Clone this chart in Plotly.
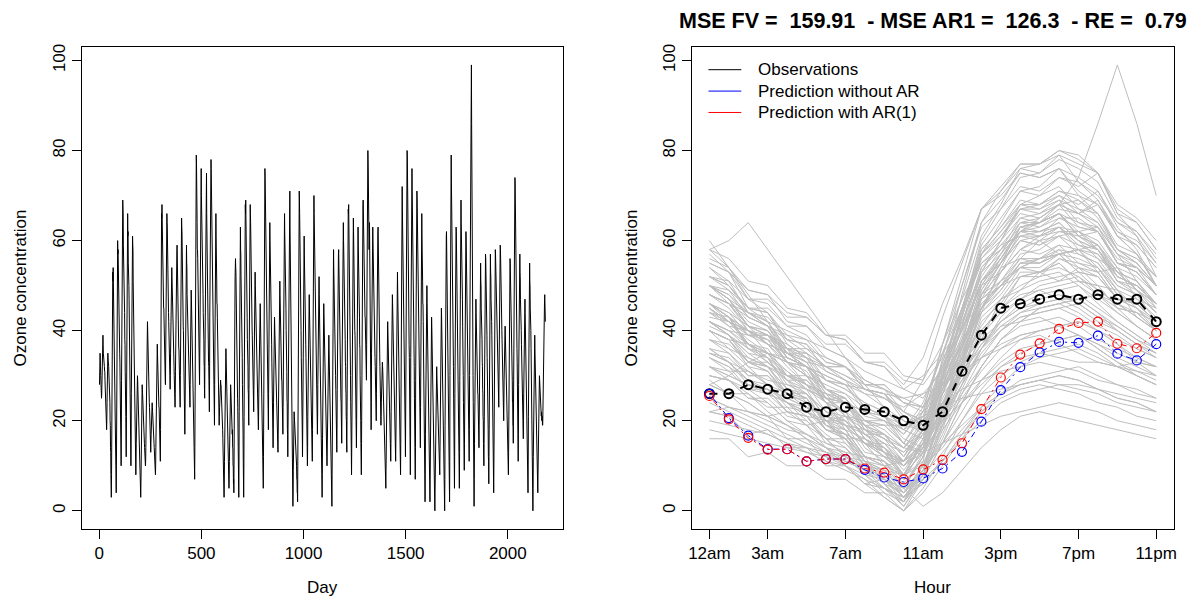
import plotly.graph_objects as go

# ---------------------------------------------------------------------------
# data (hourly ozone, 91 days x 24 hours)
# ---------------------------------------------------------------------------
hours = list(range(1, 25))
hour_ticks = [1, 4, 8, 12, 16, 20, 24]
hour_labels = ["12am", "3am", "7am", "11am", "3pm", "7pm", "11pm"]
day_ticks = [0, 500, 1000, 1500, 2000]
conc_ticks = [0, 20, 40, 60, 80, 100]

daily = [
    [28,30,33,35,34,32,30,28,27,26,25,26,28,31,34,36,38,39,37,35,33,32,33,32],
    [32,31,31,29,28,27,25,24,22,21,19,18,20,24,28,32,34,35,34,33,33,32,31,30],
    [30,29,25,24,20,19,14,13,8,7,3,8,18,31,38,47,49,53,51,54,50,49,43,40],
    [40,38,33,31,26,24,18,17,11,9,4,10,22,37,44,54,56,60,57,58,53,54,47,45],
    [45,41,40,35,33,28,26,21,19,13,10,16,29,41,54,58,65,66,69,67,66,59,57,52],
    [52,50,45,44,38,37,31,29,23,21,15,12,21,33,48,55,63,64,66,61,62,55,54,50],
    [50,47,42,40,34,32,26,24,18,15,10,15,26,36,47,51,57,58,61,59,58,51,48,42],
    [42,39,35,32,29,26,22,19,15,12,8,11,15,19,23,26,28,29,30,29,27,25,24,22],
    [22,21,19,17,15,13,11,9,7,5,3,6,11,17,22,25,27,28,27,26,24,23,21,20],
    [20,19,18,17,15,14,13,12,11,10,11,14,19,25,31,36,39,40,41,42,40,37,33,30],
    [30,29,27,26,24,23,21,19,18,16,14,13,15,17,19,21,22,23,24,23,22,20,19,18],
    [18,17,16,15,14,13,12,11,10,9,8,10,14,20,26,30,33,35,36,37,35,32,30,28],
    [28,26,26,23,23,19,20,16,16,12,11,18,33,45,57,61,66,65,68,63,62,55,54,50],
    [50,49,45,45,41,41,37,37,33,33,29,28,34,40,51,56,62,63,66,64,63,55,53,48],
    [48,46,44,42,40,38,36,34,31,29,27,30,35,41,46,50,52,53,54,52,49,46,43,40],
    [40,38,37,35,33,32,30,28,26,25,23,26,31,38,45,50,54,56,57,58,59,54,49,44],
    [44,43,39,39,36,36,32,32,28,28,24,23,30,37,48,53,60,61,65,63,62,55,53,48],
    [48,46,41,40,35,34,29,28,22,21,17,22,32,40,50,53,58,57,59,55,54,48,46,42],
    [42,40,39,37,35,33,32,30,28,27,25,23,28,34,40,45,48,49,47,45,42,40,37,35],
    [35,33,29,28,23,22,18,17,12,11,7,14,29,44,60,67,74,75,79,77,75,66,64,58],
    [58,56,51,50,45,44,39,38,33,32,28,34,46,56,67,70,75,74,76,70,68,62,60,55],
    [55,53,49,48,44,43,39,38,33,32,27,25,32,40,53,60,68,70,74,72,75,66,61,52],
    [52,50,45,44,39,38,33,32,27,26,22,29,43,55,67,71,76,75,78,76,73,65,62,56],
    [56,54,49,48,42,41,36,34,29,27,22,19,28,38,51,57,64,64,66,61,59,53,51,46],
    [46,43,40,37,35,32,29,27,24,22,19,21,23,25,26,27,28,29,28,28,27,26,25,24],
    [24,22,20,18,16,14,12,10,8,5,3,6,11,17,23,28,32,34,35,36,34,32,30,28],
    [28,26,24,21,19,17,14,12,10,7,5,7,11,16,20,24,26,27,28,27,26,24,23,22],
    [22,21,17,18,14,14,10,10,6,7,4,9,19,28,40,45,52,53,56,54,53,47,45,40],
    [40,38,32,31,25,23,18,16,10,8,3,9,22,35,49,55,61,61,63,58,57,52,50,46],
    [46,43,37,34,28,26,19,17,11,8,3,9,21,33,47,54,62,64,68,66,69,61,57,50],
    [50,48,44,43,38,37,33,32,27,26,21,19,27,36,50,57,64,65,68,66,64,57,54,48],
    [48,46,43,41,39,36,34,32,29,27,24,22,27,34,41,47,50,52,53,50,47,44,41,38],
    [38,36,34,32,30,28,26,24,22,20,18,21,26,31,36,40,43,44,45,46,43,40,37,34],
    [34,32,27,27,22,21,16,15,10,9,5,12,27,41,57,64,71,72,76,74,71,64,61,55],
    [55,53,47,46,41,39,34,32,27,26,20,18,26,36,50,56,62,62,64,60,58,52,50,46],
    [46,43,40,37,33,30,27,24,20,17,14,18,24,31,37,41,42,43,41,39,37,35,33,32],
    [32,30,28,27,25,23,21,19,17,15,13,17,24,32,39,44,47,49,50,51,48,44,41,38],
    [38,37,33,33,29,29,25,25,20,20,17,23,35,45,56,60,65,64,66,62,60,54,52,48],
    [48,45,40,38,33,31,25,24,18,17,12,18,31,43,56,61,67,67,70,68,71,63,58,50],
    [50,46,41,37,32,28,24,19,15,10,5,1,4,9,14,18,21,22,21,20,19,18,17,16],
    [16,16,12,13,10,10,7,7,4,4,2,9,23,37,53,60,67,68,71,69,66,58,55,50],
    [50,47,41,40,34,32,26,25,19,17,12,18,30,40,51,55,60,59,61,57,55,50,48,44],
    [44,41,37,34,31,27,24,20,17,13,10,14,21,29,36,41,44,46,47,48,45,42,39,36],
    [36,35,30,30,25,25,20,20,15,15,11,18,32,45,58,63,69,68,70,66,63,57,55,50],
    [50,47,44,41,38,35,32,29,26,23,20,17,21,28,36,43,47,50,51,52,48,45,41,38],
    [38,35,31,28,24,21,17,14,10,7,3,8,16,26,34,40,44,45,46,44,41,39,36,34],
    [34,32,29,27,24,22,19,17,15,12,10,13,18,24,29,33,36,37,38,39,36,33,30,28],
    [28,26,22,21,16,16,11,10,6,5,1,8,20,32,45,50,56,56,58,54,52,47,46,42],
    [42,39,36,33,30,27,25,22,19,16,13,18,27,37,45,51,54,56,57,58,54,49,45,42],
    [42,40,36,35,30,30,25,24,20,19,15,21,33,44,55,58,63,62,64,60,58,52,50,46],
    [46,44,39,38,33,32,27,26,21,20,15,13,22,33,48,55,63,64,67,66,68,61,57,50],
    [50,47,41,39,33,30,24,22,16,13,8,15,29,41,54,59,64,63,65,65,62,55,53,48],
    [48,46,40,39,34,32,27,25,20,18,14,20,32,42,53,57,62,61,63,59,57,51,50,46],
    [46,43,37,36,30,28,22,20,15,13,8,15,30,43,57,62,67,66,68,69,65,58,56,52],
    [52,51,47,47,43,43,39,39,35,35,30,29,37,47,61,68,76,77,80,78,75,68,65,60],
    [58,60,64,58,52,46,40,34,28,23,18,24,35,47,55,59,61,62,63,60,56,53,49,46],
    [46,44,41,39,37,34,32,30,27,25,22,20,26,35,45,53,58,61,62,62,63,57,51,45],
    [45,42,40,37,35,32,29,27,24,22,19,21,24,27,29,31,32,33,32,31,29,28,26,25],
    [25,23,21,19,17,15,13,11,9,7,5,9,15,22,29,34,38,40,41,42,40,37,34,32],
    [32,30,28,26,24,22,20,17,15,13,11,15,22,30,37,42,45,47,48,46,43,41,38,36],
    [36,33,31,28,26,23,21,18,16,13,11,15,23,32,40,45,49,51,52,53,49,46,43,40],
    [40,38,33,32,26,25,20,19,13,12,8,15,31,45,59,65,71,70,72,67,64,58,56,52],
    [52,49,43,41,35,33,27,25,19,17,12,20,37,52,67,72,77,77,80,79,75,67,64,58],
    [58,54,47,44,37,34,27,24,17,14,8,16,34,50,64,69,75,74,76,71,68,61,59,54],
    [54,50,44,41,34,32,25,22,16,13,7,14,29,43,57,62,68,68,71,70,66,58,55,50],
    [50,48,43,41,36,35,29,28,23,21,16,14,23,34,49,56,63,64,66,61,59,53,51,46],
    [46,42,37,33,29,24,20,15,11,6,2,8,17,27,36,42,46,48,49,50,46,42,39,36],
    [36,33,29,26,22,19,16,12,9,5,2,7,15,24,32,38,41,42,43,41,38,36,34,32],
    [32,29,26,22,19,16,13,10,6,3,0,4,10,16,22,26,29,30,31,32,30,28,27,25],
    [25,23,22,20,18,17,15,13,12,10,8,13,20,28,35,40,43,44,45,43,40,38,36,34],
    [34,31,27,24,20,17,14,10,7,3,0,7,19,33,45,53,58,60,61,62,58,53,49,46],
    [46,43,36,34,27,25,19,16,10,7,2,11,30,48,64,71,77,77,79,73,70,64,62,57],
    [57,53,45,42,35,32,25,21,14,11,5,12,26,38,51,55,61,60,63,62,59,52,50,46],
    [46,43,37,35,29,27,20,18,12,10,5,13,29,44,58,63,68,67,69,64,62,56,54,50],
    [50,47,41,39,33,30,24,22,16,14,9,15,28,39,51,55,60,59,62,61,58,51,49,45],
    [45,42,38,35,31,28,25,21,18,14,11,18,30,42,52,58,62,65,68,74,86,99,86,70],
    [60,54,48,42,36,30,24,18,12,6,1,7,15,24,32,38,42,45,46,47,44,40,37,35],
    [35,34,30,30,26,26,22,21,17,17,14,19,29,37,47,50,54,53,55,51,50,45,44,40],
    [40,38,33,32,27,26,21,20,15,14,10,15,25,33,44,48,54,54,57,56,54,48,46,42],
    [42,39,34,32,27,25,19,18,12,11,6,12,24,34,46,50,55,55,57,53,52,47,46,42],
    [42,39,33,31,26,24,18,16,11,9,4,10,22,32,44,49,55,55,58,57,55,49,47,43],
    [43,42,39,39,35,35,32,32,28,28,24,23,29,35,45,49,55,56,59,58,56,50,48,44],
    [44,42,40,38,36,34,31,29,27,25,22,20,24,29,34,37,39,40,41,39,37,34,32,30],
    [30,29,25,25,21,20,16,16,12,11,8,13,23,31,42,46,52,52,56,55,53,47,45,41],
    [41,39,35,34,30,29,24,24,19,19,15,22,37,50,63,67,72,71,74,73,69,62,59,54],
    [54,51,44,42,36,33,27,25,18,16,11,17,28,37,48,51,56,55,57,53,52,47,46,42],
    [42,40,37,35,33,30,28,26,23,21,18,16,20,26,32,38,42,45,46,47,44,41,38,35],
    [35,33,28,27,22,21,15,14,9,8,4,10,21,31,43,47,53,53,55,51,50,45,44,40],
    [40,36,32,28,24,20,16,12,8,4,0,5,12,20,27,32,35,37,38,39,36,33,31,29],
    [29,26,24,21,19,16,14,11,9,6,4,8,13,18,23,26,28,29,30,29,27,25,24,22],
    [22,23,22,21,22,21,20,21,20,19,19,22,27,33,38,42,45,46,47,47,48,46,44,42],
]

obs = [26, 26, 28, 27, 26, 23, 22, 23, 22.5, 22, 20, 19,
       22, 31, 39, 45, 46, 47, 48, 47, 48, 47, 47, 42]
pred_no_ar = [26.0, 20.6, 16.7, 13.7, 13.7, 11.0, 11.5, 11.5, 9.1, 7.4, 6.4, 7.2,
              9.4, 13.1, 19.8, 26.8, 31.9, 35.2, 37.5, 37.3, 38.9, 34.9, 33.4, 37.0]
pred_ar1 = [25.5, 20.3, 16.2, 13.6, 13.7, 11.0, 11.5, 11.5, 9.4, 8.5, 7.0, 9.2,
            11.3, 15.0, 22.6, 29.6, 34.7, 37.2, 40.4, 41.7, 42.0, 37.1, 36.1, 39.5]

legend_names = ["Observations", "Prediction without AR", "Prediction with AR(1)"]
legend_colors = ["black", "blue", "red"]

title_txt = "MSE FV = \u00a0159.91 \u00a0- MSE AR1 = \u00a0126.3 \u00a0- RE = \u00a00.79"

# ---------------------------------------------------------------------------
series = [v for day in daily for v in day]
day_idx = list(range(1, len(series) + 1))

gx, gy = [], []
for day in daily:
    gx += hours + [None]
    gy += day + [None]


def r_range(lo, hi):
    pad = (hi - lo) * 0.04
    return [lo - pad, hi + pad]


# page body keeps an 8px margin, so the figure sits at (8, 8)
W, H = 1197, 599
OFF = 8
FW, FH = W - OFF, H - OFF


def px(X):
    return (X - OFF) / FW


def py(Y):
    return 1 - (Y - OFF) / FH


FONT = "Liberation Sans, Arial, sans-serif"

fig = go.Figure()

# left: whole series
fig.add_trace(go.Scatter(x=day_idx, y=series, mode="lines",
                         line=dict(color="black", width=1),
                         showlegend=False, xaxis="x", yaxis="y"))

# right: daily curves + predictions
fig.add_trace(go.Scatter(x=gx, y=gy, mode="lines", connectgaps=False,
                         line=dict(color="#BEBEBE", width=1),
                         showlegend=False, xaxis="x2", yaxis="y2"))
fig.add_trace(go.Scatter(x=hours, y=obs, mode="lines+markers",
                         line=dict(color="black", width=2, dash="8px,8px"),
                         marker=dict(symbol="circle-open", size=9, color="black",
                                     line=dict(width=2)),
                         showlegend=False, xaxis="x2", yaxis="y2"))
fig.add_trace(go.Scatter(x=hours, y=pred_no_ar, mode="lines+markers",
                         line=dict(color="blue", width=1, dash="2px,4px,6px,4px"),
                         marker=dict(symbol="circle-open", size=9, color="blue",
                                     line=dict(width=1.2)),
                         showlegend=False, xaxis="x2", yaxis="y2"))
fig.add_trace(go.Scatter(x=hours, y=pred_ar1, mode="lines+markers",
                         line=dict(color="red", width=1, dash="2px,4px,6px,4px"),
                         marker=dict(symbol="circle-open", size=9, color="red",
                                     line=dict(width=1.2)),
                         showlegend=False, xaxis="x2", yaxis="y2"))

axis_style = dict(showline=True, mirror=True, linecolor="black", linewidth=1,
                  ticks="outside", ticklen=9, tickwidth=1, tickcolor="black",
                  showgrid=False, zeroline=False,
                  tickfont=dict(family=FONT, size=17, color="black"))

ydom = [py(528.3), py(44.3)]
yrange = r_range(0, 99)

fig.update_layout(
    width=FW, height=FH, autosize=False,
    margin=dict(l=0, r=0, t=0, b=0),
    paper_bgcolor="white", plot_bgcolor="white",
    font=dict(family=FONT, size=17, color="black"),
    showlegend=False,
    xaxis=dict(domain=[px(79), px(563)], range=r_range(1, len(series)),
               tickvals=day_ticks, anchor="y", **axis_style),
    yaxis=dict(domain=ydom, range=yrange, tickvals=conc_ticks, tickangle=-90,
               anchor="x", **axis_style),
    xaxis2=dict(domain=[px(692), px(1177)], range=r_range(1, 24),
                tickvals=hour_ticks, ticktext=hour_labels, anchor="y2",
                **axis_style),
    yaxis2=dict(domain=ydom, range=yrange, tickvals=conc_ticks, tickangle=-90,
                anchor="x2", **axis_style),
)

# legend (R style: short line + label, no box)
for i, (name, col) in enumerate(zip(legend_names, legend_colors)):
    ly = py(67 + 21.5 * i)
    fig.add_shape(type="line", xref="paper", yref="paper",
                  x0=px(709), x1=px(742), y0=ly, y1=ly,
                  line=dict(color=col, width=1))
    fig.add_annotation(text=name, x=px(757), y=ly, xref="paper", yref="paper",
                       xanchor="left", yanchor="middle", showarrow=False,
                       font=dict(family=FONT, size=17, color="black"))

ann_font = dict(family=FONT, size=17, color="black")
common = dict(xref="paper", yref="paper", showarrow=False,
              xanchor="center", yanchor="middle")
fig.add_annotation(text="Day", x=px((79 + 563) / 2), y=py(587), font=ann_font,
                   **common)
fig.add_annotation(text="Hour", x=px((692 + 1177) / 2), y=py(587),
                   font=ann_font, **common)
fig.add_annotation(text="Ozone concentration", x=px(18), y=py(286),
                   textangle=-90, font=ann_font, **common)
fig.add_annotation(text="Ozone concentration", x=px(632), y=py(286),
                   textangle=-90, font=ann_font, **common)
fig.add_annotation(text="<b>" + title_txt + "</b>", x=px((692 + 1177) / 2),
                   y=py(18), font=dict(family=FONT, size=21.5, color="black"),
                   **common)

fig.write_html("out.html")
